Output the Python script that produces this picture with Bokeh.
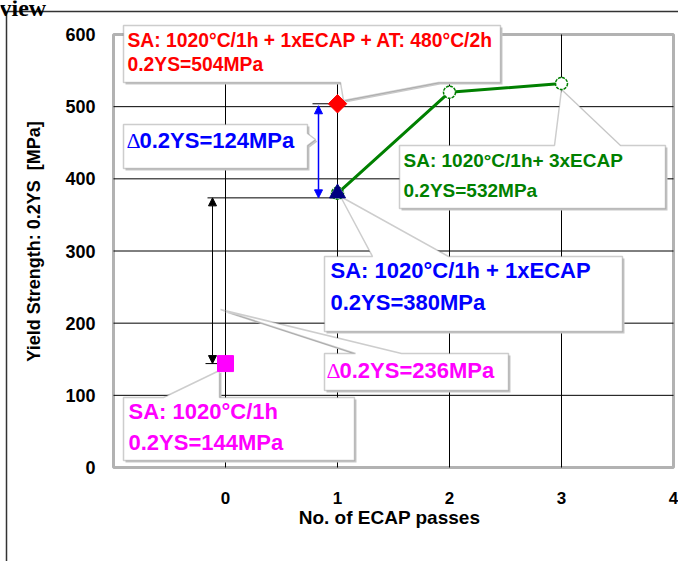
import math
from bokeh.plotting import figure
from bokeh.models import Range1d, FixedTicker, Label, PolyAnnotation, Arrow, NormalHead, BoxAnnotation
from bokeh.embed import file_html
from bokeh.resources import INLINE

# ---------------- data ----------------
sa_passes = [0]
sa_ys = [144]
ecap1_passes = [1]
ecap1_ys = [380]
aged_passes = [1]
aged_ys = [504]
ecap_passes = [1, 2, 3]
ecap_ys = [380, 520, 532]
x_tick_values = [0, 1, 2, 3, 4]
y_tick_values = [0, 100, 200, 300, 400, 500, 600]

red_lines = ["SA: 1020°C/1h + 1xECAP + AT: 480°C/2h", "0.2YS=504MPa"]
green_lines = ["SA: 1020°C/1h+ 3xECAP", "0.2YS=532MPa"]
blue_lines = ["SA: 1020°C/1h + 1xECAP", "0.2YS=380MPa"]
mag_lines = ["SA: 1020°C/1h", "0.2YS=144MPa"]
delta1_text = "0.2YS=124MPa"
delta2_text = "0.2YS=236MPa"

# ---------------- layout ----------------
W, H = 678, 561
FONT = "Liberation Sans"
# plot box in page pixels: x -1..4 -> 113..673, y 0..600 -> 467..34
PX_L, PX_R, PY_T, PY_B = 113, 673, 34, 467
XMIN, XMAX, YMIN, YMAX = -1, 4, 0, 600

def X(px):
    return XMIN + (px - PX_L) * (XMAX - XMIN) / (PX_R - PX_L)
def Y(py):
    return YMIN + (PY_B - py) * (YMAX - YMIN) / (PY_B - PY_T)
PXY = (YMAX - YMIN) / (PY_B - PY_T)  # data units per pixel (y)

p = figure(width=W, height=H, x_range=Range1d(X(0), X(W)), y_range=Range1d(Y(H), Y(0)),
           output_backend="svg", toolbar_location=None,
           min_border_left=0, min_border_top=0, min_border_right=0, min_border_bottom=0)
p.background_fill_color = "white"
p.border_fill_color = "white"
p.outline_line_color = None
p.grid.visible = False

# axes drawn at the plot box edges
p.xaxis.fixed_location = YMIN
p.yaxis.fixed_location = XMIN
p.xaxis.bounds = (X(105), XMAX)     # centres the axis title as in the reference
p.yaxis.bounds = (YMIN, Y(15))
for ax in (p.xaxis[0], p.yaxis[0]):
    ax.axis_line_color = None
    ax.major_tick_line_color = None
    ax.minor_tick_line_color = None
    ax.major_label_text_font = FONT
    ax.major_label_text_font_style = "bold"
    ax.major_label_text_color = "black"
    ax.axis_label_text_font = FONT
    ax.axis_label_text_font_style = "bold"
    ax.axis_label_text_color = "black"

p.xaxis.ticker = FixedTicker(ticks=x_tick_values)
p.yaxis.ticker = FixedTicker(ticks=y_tick_values)
p.xaxis.major_label_text_font_size = "17px"
p.yaxis.major_label_text_font_size = "18px"
p.xaxis.major_label_standoff = 18
p.yaxis.major_label_standoff = 12
p.xaxis.axis_label = "No. of ECAP passes"
p.yaxis.axis_label = "Yield Strength: 0.2YS \u00a0[MPa]"
p.xaxis.axis_label_text_font_size = "19px"
p.yaxis.axis_label_text_font_size = "18px"
p.xaxis.axis_label_standoff = 0
p.yaxis.axis_label_standoff = 18

# grid lines inside the plot box
gx = x_tick_values[:-1]
gy = y_tick_values[1:-1]
p.segment(x0=gx, y0=[YMIN] * len(gx), x1=gx, y1=[YMAX] * len(gx), line_color="black", line_width=1)
p.segment(x0=[XMIN] * len(gy), y0=gy, x1=[XMAX] * len(gy), y1=gy, line_color="black", line_width=1)

# outer document frame and cut-off heading
p.segment(x0=[X(6), X(6)], y0=[Y(11), Y(11)], x1=[X(W + 5), X(6)], y1=[Y(11), Y(H + 5)],
          line_color="#333333", line_width=1.5)
p.add_layout(Label(x=X(-1), y=Y(7), text="view", text_font="Liberation Serif",
                   text_font_style="bold", text_font_size="24px", text_color="black",
                   text_align="left", text_baseline="alphabetic"))

# thick plot frame (drawn before callouts so they cover it)
p.add_layout(BoxAnnotation(left=XMIN, right=XMAX, bottom=YMIN, top=YMAX, fill_alpha=0,
                           line_color="black", line_width=3))

# ---------------- dimension lines ----------------
tri_base = ecap1_ys[0] - 4.6 * PXY
p.segment(x0=[X(312)], y0=[aged_ys[0]], x1=[aged_passes[0]], y1=[aged_ys[0]], line_color="black", line_width=1)
p.segment(x0=[X(207)], y0=[tri_base], x1=[ecap1_passes[0]], y1=[tri_base], line_color="black", line_width=1)
p.segment(x0=[X(205)], y0=[sa_ys[0]], x1=[sa_passes[0]], y1=[sa_ys[0]], line_color="black", line_width=1)

p.add_layout(Arrow(x_start=X(212), y_start=tri_base, x_end=X(212), y_end=sa_ys[0],
                   line_color="black", line_width=1,
                   start=NormalHead(size=8, fill_color="black", line_color="black"),
                   end=NormalHead(size=8, fill_color="black", line_color="black")))
p.add_layout(Arrow(x_start=X(318), y_start=aged_ys[0] - 2 * PXY, x_end=X(318), y_end=tri_base,
                   line_color="blue", line_width=1.5,
                   start=NormalHead(size=8, fill_color="blue", line_color="blue"),
                   end=NormalHead(size=8, fill_color="blue", line_color="blue")))

# ---------------- callouts ----------------
def callout_pts(L, T, R, B, edge, b1, b2, tip):
    if edge == "top":
        pts = [(L, T), (b1, T), tip, (b2, T), (R, T), (R, B), (L, B)]
    elif edge == "bottom":
        pts = [(L, T), (R, T), (R, B), (b2, B), tip, (b1, B), (L, B)]
    else:  # right
        pts = [(L, T), (R, T), (R, b1), tip, (R, b2), (R, B), (L, B)]
    return pts

def add_callout(L, T, R, B, edge, b1, b2, tip):
    pts = callout_pts(L, T, R, B, edge, b1, b2, tip)
    sh = [(x + 2, y + 2) for x, y in pts]
    p.add_layout(PolyAnnotation(xs=[X(x) for x, _ in sh], ys=[Y(y) for _, y in sh],
                                fill_color="#c8c8c8", fill_alpha=1.0, line_color=None))
    p.add_layout(PolyAnnotation(xs=[X(x) for x, _ in pts], ys=[Y(y) for _, y in pts],
                                fill_color="white", fill_alpha=1.0,
                                line_color="#5a5a5a", line_width=1.5))

def add_text(px, py, txt, color, size, font=FONT, style="bold"):
    p.add_layout(Label(x=X(px), y=Y(py), text=txt, text_color=color,
                       text_font_size=size, text_font=font, text_font_style=style,
                       text_align="left", text_baseline="middle"))

add_callout(123, 25, 500, 82, "bottom", 340, 438, (343, 100))
add_callout(123, 124, 307, 168, "right", 133, 145, (315, 139))
add_callout(399, 145, 665, 208, "top", 554, 620, (561, 89))
add_callout(324, 256, 622, 331, "top", 372, 448, (340, 196))
add_callout(324, 353, 508, 390, "top", 355, 401, (220, 309))
add_callout(123, 397, 354, 460, "top", 163, 219, (219, 370))

add_text(127, 40, red_lines[0], "red", "19.3px")
add_text(127, 64, red_lines[1], "red", "19.3px")
add_text(126, 140, "Δ", "blue", "22px", "Liberation Serif", "normal")
add_text(139, 140, delta1_text, "blue", "22px")
add_text(403, 160, green_lines[0], "green", "19px")
add_text(403, 190, green_lines[1], "green", "19px")
add_text(330, 270, blue_lines[0], "blue", "22px")
add_text(330, 302, blue_lines[1], "blue", "22px")
add_text(326, 370, "Δ", "magenta", "22px", "Liberation Serif", "normal")
add_text(339, 370, delta2_text, "magenta", "22px")
add_text(128, 411, mag_lines[0], "magenta", "22px")
add_text(128, 442, mag_lines[1], "magenta", "22px")

# ---------------- data marks ----------------
p.line(ecap_passes, ecap_ys, line_color="green", line_width=3, level="overlay")
p.scatter(ecap_passes, ecap_ys, marker="circle", size=12, fill_color="white",
          line_color="green", line_width=1.5, line_dash="3 1", level="overlay")
p.scatter(ecap1_passes, ecap1_ys, marker="triangle", size=16, fill_color="navy",
          line_color="navy", level="overlay")
p.scatter(aged_passes, aged_ys, marker="square", angle=math.pi / 4, size=13,
          fill_color="red", line_color="red", level="overlay")
p.scatter(sa_passes, sa_ys, marker="square", size=16, fill_color="magenta",
          line_color="magenta", level="overlay")

open("out.html", "w").write(file_html(p, INLINE))
